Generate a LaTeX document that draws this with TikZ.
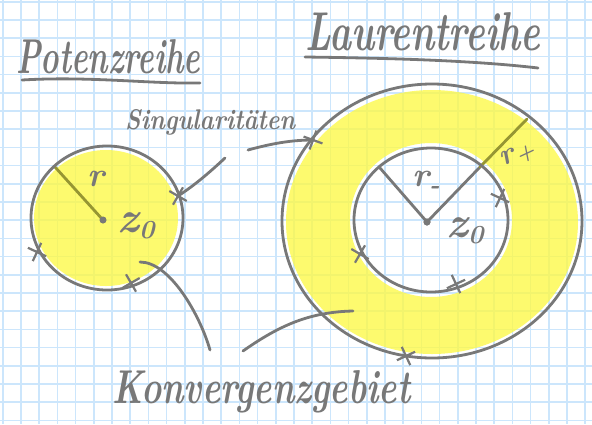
\documentclass[tikz,border=0pt]{standalone}
\usepackage{graphicx}
\usetikzlibrary{shapes.misc}
\newcommand\hw{\bfseries\itshape}
\definecolor{lg}{RGB}{120,120,120}
\definecolor{olive}{RGB}{150,150,50}
\definecolor{gridc}{RGB}{204,230,252}
\definecolor{yel}{RGB}{253,249,70}
\tikzset{
  ln/.style={draw=lg, line width=2.8, line cap=round, line join=round},
  oln/.style={draw=olive, line width=2.8, line cap=round},
  hwtext/.style={text=lg, inner sep=0},
  sing/.style={cross out, draw=lg, line width=2.2, minimum size=12, inner sep=0},
  cdot/.style={circle, fill=lg, inner sep=0, minimum size=7},
  yfill/.style={fill=yel, fill opacity=0.78},
}
\begin{document}
\begin{tikzpicture}[x=1pt,y=-1pt]
\useasboundingbox (0,0) rectangle (592,424);
\fill[white] (0,0) rectangle (592,424);
% grid
\foreach \i in {0,...,32} \draw[gridc, line width=1.6] ({2.7+18.2*\i},0) -- ({2.7+18.2*\i},424);
\foreach \j in {0,...,23} \draw[gridc, line width=1.6] (0,{1.7+18.2*\j}) -- (592,{1.7+18.2*\j});

% centres
\node[cdot] (c1) at (103,220) {};
\node[cdot] (c2) at (427,222) {};
\coordinate (r1end) at (55,167);
\coordinate (rmend) at (380,168);
\coordinate (rpmid) at (480,167);
\coordinate (rpend) at (527,119);

% yellow areas
\fill[yfill] (106,218) ellipse [x radius=72, y radius=68];
\fill[yfill, even odd rule] (432,222) ellipse [x radius=146, y radius=132]
   (431,220) ellipse [x radius=81, y radius=77];

% radius lines
\draw[oln] (c1.center) -- (r1end);
\draw[ln] (c2.center) -- (rmend);
\draw[ln] (c2.center) -- (rpmid);
\draw[oln] (rpmid) -- (rpend);

% circles
\draw[ln] (107,218) ellipse [x radius=76, y radius=72];
\draw[ln] (432,221) ellipse [x radius=150, y radius=137];
\draw[ln] (431,220) ellipse [x radius=77, y radius=72];
\node[cdot] at (c1) {};
\node[cdot] at (c2) {};

% singularities
\node[sing, rotate=15] (s1) at (178,196) {};
\node[sing, rotate=20] (s2) at (37,252) {};
\node[sing, rotate=-15] (s3) at (131,283) {};
\node[sing, rotate=25] (s4) at (313,140) {};
\node[sing, rotate=-20] (s5) at (406,356) {};
\node[sing, rotate=20] (s6) at (500,198) {};
\node[sing, rotate=15] (s7) at (360,254) {};
\node[sing, rotate=-20] (s8) at (456,284) {};

% labels
\node[hwtext] (lr) at (96,179) {\fontsize{34}{34}\selectfont\hw r};
\node[hwtext] (lz1) at (136,226) {\fontsize{44}{44}\selectfont\hw z\raisebox{-6pt}{\fontsize{26}{26}\selectfont 0}};
\node[hwtext] (lrm) at (426,182) {\fontsize{34}{34}\selectfont\hw r\raisebox{-7pt}{\fontsize{26}{26}\selectfont -}};
\node[hwtext] (lz2) at (465,231) {\fontsize{44}{44}\selectfont\hw z\raisebox{-6pt}{\fontsize{26}{26}\selectfont 0}};
\node[hwtext, rotate=25] (lrp) at (518,156) {\fontsize{30}{30}\selectfont\hw r\raisebox{-4pt}{\fontsize{22}{22}\selectfont +}};

% titles
\node[hwtext, anchor=base west] (pot) at (16,73) {\resizebox{184pt}{34pt}{\hw Potenzreihe}};
\draw[ln] (22,80) .. controls (90,76) and (150,84) .. (200,83);
\node[hwtext, anchor=base west] (lau) at (305,50) {\resizebox{235pt}{38pt}{\hw Laurentreihe}};
\draw[ln] (305,57) .. controls (380,58) and (470,60) .. (538,68);

% Singularitaeten
\node[hwtext, anchor=base west] (sg) at (125,129) {\resizebox{170pt}{20pt}{\hw Singularit\"aten}};
\coordinate (sa) at (225,158);
\coordinate (sb) at (248,150);
\draw[ln] (sa) .. controls (210,172) and (195,185) .. (s1.center);
\draw[ln] (sb) .. controls (270,144) and (290,140) .. (s4.center);

% Konvergenzgebiet
\node[hwtext, anchor=base west] (kg) at (112,403) {\resizebox{298pt}{33pt}{\hw Konvergenzgebiet}};
\coordinate (ka) at (140,262);
\coordinate (kb) at (210,350);
\coordinate (kc) at (243,351);
\coordinate (kd) at (353,311);
\draw[ln] (ka) .. controls (170,262) and (200,315) .. (kb);
\draw[ln] (kc) .. controls (280,325) and (310,312) .. (kd);
\end{tikzpicture}
\end{document}
